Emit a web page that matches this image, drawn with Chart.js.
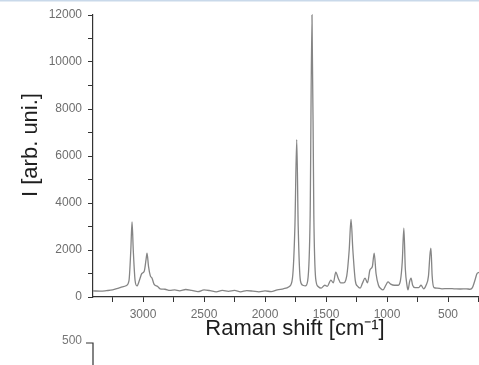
<!DOCTYPE html>
<html>
<head>
<meta charset="utf-8">
<script src="https://cdn.jsdelivr.net/npm/chart.js@4.4.1/dist/chart.umd.min.js"></script>
<style>
  html, body { margin: 0; padding: 0; background: #fff; }
  #wrap { width: 479px; height: 365px; position: relative; }
</style>
</head>
<body>
<div id="wrap"><canvas id="myChart"></canvas></div>
<script>
// Raman spectrum (wavenumber in cm-1, intensity in arb. units)
var shift = [3410, 3350, 3300, 3250, 3200, 3170, 3140, 3115, 3100, 3090, 3080, 3065, 3050, 3030, 3010, 2990, 2975, 2967, 2955, 2940,
  2926, 2910, 2880, 2860, 2820, 2780, 2740, 2700, 2650, 2600, 2550, 2500, 2450, 2400, 2350, 2300, 2250, 2200, 2150, 2100,
  2050, 2000, 1950, 1900, 1850, 1800, 1775, 1755, 1740, 1728, 1710, 1690, 1670, 1650, 1630, 1615, 1600, 1585, 1565, 1540,
  1510, 1490, 1460, 1440, 1420, 1400, 1380, 1360, 1330, 1310, 1295, 1280, 1260, 1240, 1220, 1200, 1180, 1160, 1140, 1120,
  1105, 1090, 1070, 1050, 1033, 1010, 992, 970, 940, 910, 890, 875, 862, 850, 835, 828, 815, 803, 790, 770,
  740, 721, 700, 680, 660, 648, 640, 630, 615, 590, 550, 500, 450, 400, 350, 320, 300, 280, 262, 246];
var intensity = [260, 250, 270, 300, 380, 430, 480, 700, 2000, 3200, 2000, 700, 470, 700, 1000, 1100, 1600, 1870, 1300, 900,
  800, 550, 450, 350, 330, 280, 300, 260, 320, 280, 230, 300, 270, 220, 280, 240, 280, 220, 270, 250,
  220, 260, 230, 300, 350, 450, 800, 3000, 6700, 3000, 700, 500, 470, 700, 3500, 12000, 3500, 800, 450, 380,
  500, 450, 720, 600, 1060, 800, 600, 600, 900, 2000, 3300, 2000, 700, 450, 380, 600, 800, 600, 1150, 1300,
  1870, 1000, 500, 350, 300, 500, 640, 550, 500, 500, 700, 1500, 2930, 1200, 450, 300, 650, 800, 500, 400,
  400, 500, 350, 500, 900, 1800, 2080, 900, 400, 380, 350, 360, 350, 340, 350, 330, 400, 700, 1000, 1050];

var xTicks = [500, 1000, 1500, 2000, 2500, 3000];
var yTicks = [0, 2000, 4000, 6000, 8000, 10000, 12000];

var points = shift.map(function (s, i) { return { x: s, y: intensity[i] }; });

var axisColor = '#333';
var labelFont = { family: 'Liberation Sans, Arial, sans-serif', size: 12 };
var titleFont = { family: 'Liberation Sans, Arial, sans-serif', size: 22 };

// move an axis title a little off the chart-area centre, like in the picture
function nudgeTitle(scale, dx, dy) {
  if (scale._nudged) return;
  var orig = scale.drawTitle;
  scale.drawTitle = function () {
    this.ctx.save();
    this.ctx.translate(dx, dy);
    orig.call(this);
    this.ctx.restore();
  };
  scale._nudged = true;
}

// bits of the page around the plot: top border and the next figure's axis start
var extras = {
  id: 'extras',
  afterDraw: function (chart) {
    var ctx = chart.ctx;
    ctx.save();
    ctx.strokeStyle = '#c9d9ea';
    ctx.lineWidth = 1.5;
    ctx.beginPath(); ctx.moveTo(0, 0.75); ctx.lineTo(479, 0.75); ctx.stroke();

    ctx.fillStyle = '#777';
    ctx.font = '12px Liberation Sans, Arial, sans-serif';
    ctx.textAlign = 'right';
    ctx.textBaseline = 'middle';
    ctx.fillText('500', 82, 341);
    ctx.strokeStyle = axisColor;
    ctx.lineWidth = 1.2;
    ctx.beginPath(); ctx.moveTo(86, 343); ctx.lineTo(93, 343); ctx.lineTo(93, 365); ctx.stroke();
    ctx.restore();
  }
};

var ctx = document.getElementById('myChart').getContext('2d');
var chart = new Chart(ctx, {
  type: 'scatter',
  data: {
    datasets: [{
      label: 'Raman',
      data: points,
      showLine: true,
      borderColor: '#858585',
      borderWidth: 1.3,
      pointRadius: 0,
      cubicInterpolationMode: 'monotone',
      clip: false
    }]
  },
  options: {
    responsive: true,
    maintainAspectRatio: false,
    animation: false,
    layout: { padding: { top: 15, right: 0, left: 0, bottom: 0 } },
    plugins: { legend: { display: false }, tooltip: { enabled: false } },
    scales: {
      x: {
        type: 'linear',
        reverse: true,
        min: 246,
        max: 3410,
        afterBuildTicks: function (scale) {
          var t = [];
          for (var v = 250; v <= 3250; v += 250) t.push({ value: v });
          scale.ticks = t;
        },
        afterFit: function (scale) { scale.height = 68; nudgeTitle(scale, 9, 0); },
        ticks: {
          autoSkip: false,
          maxRotation: 0,
          padding: 5,
          color: '#6e6e6e',
          font: labelFont,
          callback: function (v) { return xTicks.indexOf(v) >= 0 ? v : ''; }
        },
        grid: { drawOnChartArea: false, drawTicks: true, tickLength: 5, color: axisColor },
        border: { display: true, color: axisColor, width: 1.2 },
        title: { display: true, text: 'Raman shift [cm⁻¹]', color: '#1e1e1e', font: titleFont, padding: { top: 0, bottom: 23 } }
      },
      y: {
        min: 0,
        max: 12000,
        afterBuildTicks: function (scale) {
          var t = [];
          for (var v = 0; v <= 12000; v += 1000) t.push({ value: v });
          scale.ticks = t;
        },
        afterFit: function (scale) { scale.width = 93; nudgeTitle(scale, -1, -11); },
        ticks: {
          autoSkip: false,
          padding: 6,
          color: '#6e6e6e',
          font: labelFont,
          callback: function (v) { return yTicks.indexOf(v) >= 0 ? v : ''; }
        },
        grid: { drawOnChartArea: false, drawTicks: true, tickLength: 5, color: axisColor },
        border: { display: true, color: axisColor, width: 1.2 },
        title: { display: true, text: 'I [arb. uni.]', color: '#1e1e1e', font: titleFont, padding: { top: 19, bottom: 0 } }
      }
    }
  },
  plugins: [extras]
});
</script>
</body>
</html>
